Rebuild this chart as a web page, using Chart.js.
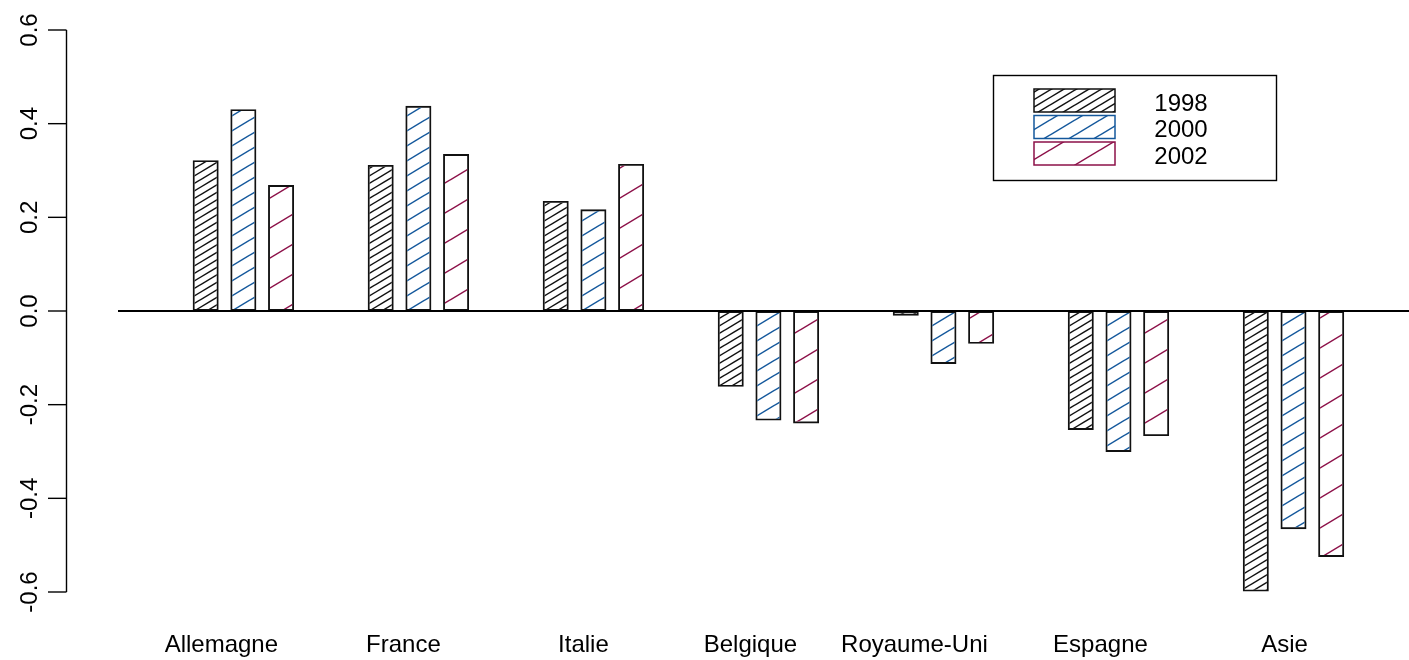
<!DOCTYPE html>
<html><head><meta charset="utf-8">
<script src="https://cdn.jsdelivr.net/npm/chart.js@4"></script>
<style>html,body{margin:0;padding:0;background:#fff;overflow:hidden}</style>
</head><body>
<canvas id="c" width="1409" height="660"></canvas>
<script>
// ---- data ----
const categories = ['Allemagne','France','Italie','Belgique','Royaume-Uni','Espagne','Asie'];
const seriesNames = ['1998','2000','2002'];
const values1998 = [0.322, 0.312, 0.235, -0.162, -0.010, -0.254, -0.599];
const values2000 = [0.431, 0.438, 0.217, -0.234, -0.113, -0.301, -0.466];
const values2002 = [0.269, 0.335, 0.314, -0.240, -0.070, -0.267, -0.525];
const yTicks = [-0.6, -0.4, -0.2, 0, 0.2, 0.4, 0.6];
const yTickLabels = ['-0.6', '-0.4', '-0.2', '0.0', '0.2', '0.4', '0.6'];

// ---- styles ----
const FONT = '"Liberation Sans", Arial, Helvetica, sans-serif';
const colors = ['#111111', '#14589c', '#8c1048'];
const labelShift = [-22, -15, -10, -18, -29, -18, -9];

function hatch(color, W, H, n, lw) {
  const c = document.createElement('canvas');
  c.width = W; c.height = H;
  const g = c.getContext('2d');
  g.strokeStyle = color; g.lineWidth = lw;
  for (let k = 0; k < n; k++) {
    const off = k * H / n;
    for (let m = -2; m <= 2; m++) {
      const dy = off + m * H;
      g.beginPath();
      g.moveTo(-W, 2 * H + dy);
      g.lineTo(2 * W, -H + dy);
      g.stroke();
    }
  }
  return g.createPattern(c, 'repeat');
}
const patterns = [
  hatch(colors[0], 25, 15, 2, 1.5),
  hatch(colors[1], 25, 15, 1, 1.5),
  hatch(colors[2], 50, 30, 1, 1.5)
];

const decor = {
  id: 'decor',
  afterDatasetsDraw(chart) {
    const ctx = chart.ctx, y = chart.scales.y, x = chart.scales.x;
    ctx.save();
    // zero line
    const y0 = y.getPixelForValue(0);
    ctx.strokeStyle = '#000'; ctx.lineWidth = 1.8;
    ctx.beginPath(); ctx.moveTo(118, y0); ctx.lineTo(1409, y0); ctx.stroke();
    // y axis
    const ax = 66.5;
    ctx.lineWidth = 1.4;
    ctx.beginPath();
    ctx.moveTo(ax, y.getPixelForValue(yTicks[yTicks.length - 1]));
    ctx.lineTo(ax, y.getPixelForValue(yTicks[0]));
    ctx.stroke();
    ctx.font = '24px ' + FONT; ctx.fillStyle = '#000';
    yTicks.forEach((v, i) => {
      const py = y.getPixelForValue(v);
      ctx.beginPath(); ctx.moveTo(48, py); ctx.lineTo(ax, py); ctx.stroke();
      ctx.save();
      ctx.translate(37, py); ctx.rotate(-Math.PI / 2);
      ctx.textAlign = 'center'; ctx.textBaseline = 'alphabetic';
      ctx.fillText(yTickLabels[i], 0, 0);
      ctx.restore();
    });
    // x labels
    ctx.textAlign = 'center'; ctx.textBaseline = 'alphabetic';
    categories.forEach((c, i) => {
      ctx.fillText(c, x.getPixelForValue(i) + labelShift[i], 652);
    });
    // legend
    ctx.lineWidth = 1.4; ctx.strokeStyle = '#000';
    ctx.strokeRect(993.5, 75.5, 283, 105);
    chart.data.datasets.forEach((ds, i) => {
      const top = 89 + i * 26.5;
      ctx.fillStyle = ds.backgroundColor;
      ctx.fillRect(1034, top, 81, 23);
      ctx.lineWidth = 1.5;
      ctx.strokeStyle = colors[i];
      ctx.strokeRect(1034, top, 81, 23);
      ctx.fillStyle = '#000';
      ctx.textBaseline = 'middle';
      ctx.fillText(ds.label, 1181, top + 15);
    });
    ctx.restore();
  }
};

new Chart(document.getElementById('c'), {
  type: 'bar',
  data: {
    labels: categories,
    datasets: [values1998, values2000, values2002].map((vals, i) => ({
      label: seriesNames[i],
      data: vals,
      backgroundColor: patterns[i],
      borderColor: '#111111',
      borderWidth: 1.9,
      borderSkipped: false,
      barPercentage: 0.69,
      categoryPercentage: 0.646
    }))
  },
  options: {
    responsive: false,
    animation: false,
    devicePixelRatio: 1,
    layout: { padding: { left: 155.85, right: 28, top: 30, bottom: 68 } },
    plugins: { legend: { display: false }, tooltip: { enabled: false } },
    scales: {
      x: { display: false, offset: true },
      y: { display: false, min: -0.6, max: 0.6 }
    }
  },
  plugins: [decor]
});
</script>
</body></html>
